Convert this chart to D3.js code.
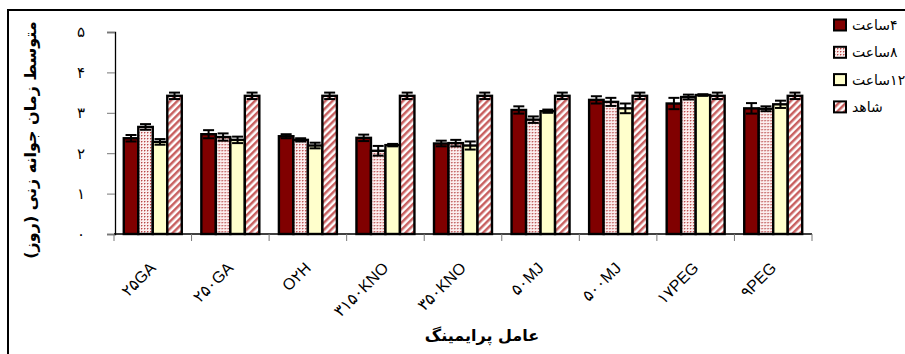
<!DOCTYPE html>
<html>
<head>
<meta charset="utf-8">
<script src="https://cdn.jsdelivr.net/npm/d3@7/dist/d3.min.js"></script>
<style>
  html, body { margin: 0; padding: 0; background: #fff; }
  svg { display: block; }
</style>
</head>
<body>
<svg id="chart" width="905" height="354"></svg>
<script>
// Priming agents on the x axis
const categories = ["۲۵GA", "۲۵۰GA", "O۲H", "۳۱۵۰KNO", "۳۵۰KNO", "۵۰MJ", "۵۰۰MJ", "۱۷PEG", "۹PEG"];
// Soaking durations (legend)
const seriesNames = ["۴ساعت", "۸ساعت", "۱۲ساعت", "شاهد"];
// Mean germination time (days) and standard errors per series
const hours4 = [2.37, 2.47, 2.42, 2.38, 2.24, 3.07, 3.32, 3.23, 3.11];
const hours4Err = [0.08, 0.10, 0.05, 0.08, 0.07, 0.09, 0.09, 0.14, 0.13];
const hours8 = [2.65, 2.40, 2.33, 2.06, 2.25, 2.83, 3.27, 3.39, 3.10];
const hours8Err = [0.07, 0.09, 0.04, 0.12, 0.08, 0.08, 0.10, 0.06, 0.06];
const hours12 = [2.28, 2.33, 2.19, 2.20, 2.19, 3.04, 3.11, 3.44, 3.21];
const hours12Err = [0.07, 0.08, 0.07, 0.03, 0.10, 0.04, 0.12, 0.02, 0.09];
const control = [3.42, 3.42, 3.42, 3.42, 3.42, 3.42, 3.42, 3.42, 3.42];
const controlErr = [0.08, 0.08, 0.08, 0.08, 0.08, 0.08, 0.08, 0.08, 0.08];
// Y axis
const yTickValues = [0, 1, 2, 3, 4, 5];
const yTickLabels = ["۰", "۱", "۲", "۳", "۴", "۵"];
const yTitle = "متوسط زمان جوانه زنی (روز)";
const xTitle = "عامل پرایمینگ";

const values = [hours4, hours8, hours12, control];
const errors = [hours4Err, hours8Err, hours12Err, controlErr];

// wrap right-to-left text in an embedding so it shapes and orders correctly
const rtl = s => "\u202B" + s + "\u202C";

const svg = d3.select("#chart");
const persian = "'DejaVu Sans', sans-serif";
const latin = "'Liberation Sans', 'DejaVu Sans', sans-serif";

// fill patterns
const defs = svg.append("defs");
const dots = defs.append("pattern").attr("id", "pDots")
  .attr("patternUnits", "userSpaceOnUse").attr("width", 3).attr("height", 3);
dots.append("rect").attr("width", 3).attr("height", 3).attr("fill", "#fbeeee");
dots.append("rect").attr("x", 0).attr("y", 0).attr("width", 1).attr("height", 1).attr("fill", "#b84848");
dots.append("rect").attr("x", 1).attr("y", 0).attr("width", 1).attr("height", 1).attr("fill", "#e0a8a8");
dots.append("rect").attr("x", 0).attr("y", 1).attr("width", 1).attr("height", 1).attr("fill", "#e0a8a8");

const stripes = defs.append("pattern").attr("id", "pStripes")
  .attr("patternUnits", "userSpaceOnUse").attr("width", 5).attr("height", 5)
  .attr("patternTransform", "rotate(45)");
stripes.append("rect").attr("width", 5).attr("height", 5).attr("fill", "#fff");
stripes.append("rect").attr("x", 0).attr("width", 2.5).attr("height", 5).attr("fill", "#c86060");

const fills = ["#800000", "url(#pDots)", "#ffffcc", "url(#pStripes)"];

// outer frame
svg.append("path")
  .attr("d", "M8,354 L8,10 L905,10")
  .attr("fill", "none").attr("stroke", "#000").attr("stroke-width", 2);

// scales
const x = d3.scaleBand().domain(categories).range([114, 812]).paddingInner(0).paddingOuter(0);
const xi = d3.scaleBand().domain(d3.range(seriesNames.length)).range([0, x.bandwidth()])
  .paddingInner(0).paddingOuter(0.675);
const y = d3.scaleLinear().domain([0, 5]).range([234, 32]);

// y axis
const yAxis = svg.append("g").attr("transform", "translate(115,0)")
  .call(d3.axisLeft(y).tickValues(yTickValues).tickSize(8).tickPadding(22)
    .tickFormat((d, i) => yTickLabels[i]));
yAxis.select(".domain").attr("stroke", "#000").attr("stroke-width", 1.3);
yAxis.selectAll(".tick line").attr("stroke", "#777");
yAxis.selectAll(".tick text").attr("font-family", persian).attr("font-size", 15)
  .attr("fill", "#000");

// x axis: ticks on category boundaries
const xAxisG = svg.append("g").attr("transform", "translate(0,234)");
xAxisG.append("line").attr("x1", x.range()[0]).attr("x2", x.range()[1])
  .attr("stroke", "#000").attr("stroke-width", 1.3);
const bounds = categories.map(c => x(c)).concat([x.range()[1]]);
xAxisG.selectAll("line.tk").data(bounds).enter().append("line").attr("class", "tk")
  .attr("x1", d => d).attr("x2", d => d).attr("y1", 0).attr("y2", 7)
  .attr("stroke", "#777");
xAxisG.selectAll("text.lbl").data(categories).enter().append("text").attr("class", "lbl")
  .attr("transform", d => `translate(${x(d) + x.bandwidth() / 2 + 4},35) rotate(-45)`)
  .attr("text-anchor", "end")
  .attr("font-family", latin).attr("font-size", 16)
  .text(d => d);

// bars
const groups = svg.append("g").selectAll("g").data(categories).enter().append("g")
  .attr("transform", d => `translate(${x(d)},0)`);
groups.each(function (cat, ci) {
  const g = d3.select(this);
  seriesNames.forEach((s, si) => {
    const v = values[si][ci];
    g.append("rect")
      .attr("x", xi(si)).attr("y", y(v))
      .attr("width", xi.bandwidth()).attr("height", y(0) - y(v))
      .attr("fill", fills[si]).attr("stroke", "#000").attr("stroke-width", 2.4);
  });
  seriesNames.forEach((s, si) => {
    const v = values[si][ci], e = errors[si][ci];
    const cx = xi(si) + xi.bandwidth() / 2;
    const capW = 5.5;
    const eg = g.append("g").attr("stroke", "#000").attr("stroke-width", 2);
    eg.append("line").attr("x1", cx).attr("x2", cx).attr("y1", y(v + e)).attr("y2", y(v - e));
    eg.append("line").attr("x1", cx - capW).attr("x2", cx + capW).attr("y1", y(v + e)).attr("y2", y(v + e));
    eg.append("line").attr("x1", cx - capW).attr("x2", cx + capW).attr("y1", y(v - e)).attr("y2", y(v - e));
  });
});

// axis titles
svg.append("text")
  .attr("transform", "translate(36,140) rotate(-90)")
  .attr("text-anchor", "middle").attr("font-family", persian)
  .attr("font-weight", "bold").attr("font-size", 16)
  .text(rtl(yTitle));
svg.append("text")
  .attr("x", 482).attr("y", 341)
  .attr("text-anchor", "middle").attr("font-family", persian)
  .attr("font-weight", "bold").attr("font-size", 16)
  .text(rtl(xTitle));

// legend
const legend = svg.append("g").attr("transform", "translate(834,0)");
seriesNames.forEach((s, i) => {
  const cy = 25 + i * 27.3;
  legend.append("rect").attr("x", 0).attr("y", cy - 5.5).attr("width", 12).attr("height", 11)
    .attr("fill", fills[i]).attr("stroke", "#000").attr("stroke-width", 2);
  legend.append("text").attr("x", 18).attr("y", cy + 5)
    .attr("font-family", persian).attr("font-size", 14)
    .text(rtl(s));
});
</script>
</body>
</html>
